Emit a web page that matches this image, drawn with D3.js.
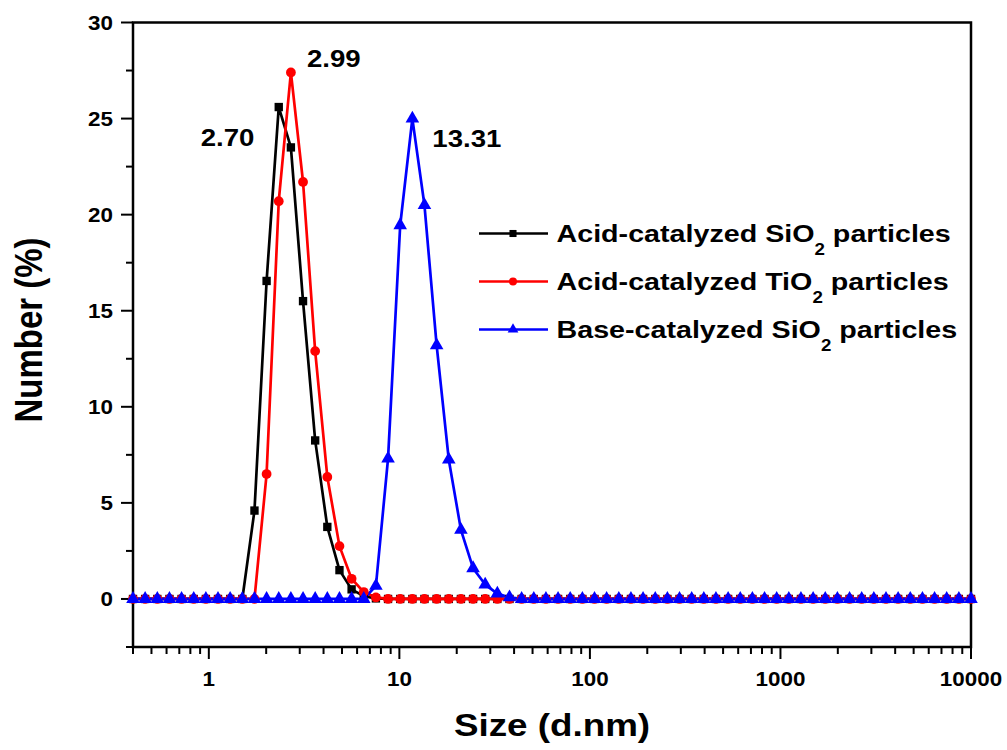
<!DOCTYPE html>
<html><head><meta charset="utf-8">
<script src="https://cdn.jsdelivr.net/npm/d3@7"></script>
<style>body{margin:0;background:#fff}svg{font-family:"Liberation Sans",Arial,sans-serif;font-weight:bold}</style>
</head><body><svg id="c" width="1007" height="750"></svg>
<script>
const sizes = [0.4,0.4632,0.5365,0.6213,0.7195,0.8332,0.9649,1.117,1.294,1.499,1.736,2.010,2.328,2.696,3.122,3.615,4.187,4.849,5.615,6.503,7.531,8.721,10.10,11.70,13.54,15.69,18.17,21.04,24.36,28.21,32.67,37.84,43.82,50.75,58.77,68.06,78.82,91.28,105.7,122.4,141.8,164.2,190.1,220.2,255.0,295.3,342.0,396.1,458.7,531.2,615.1,712.4,825.0,955.4,1106,1281,1484,1718,1990,2305,2669,3091,3580,4145,4801,5560,6439,7456,8635,10000];
// values per bin (non-zero part, all other bins 0)
const acidSiO2 = {1.736:4.6,2.010:16.55,2.328:25.6,2.696:23.5,3.122:15.5,3.615:8.25,4.187:3.75,4.849:1.5,5.615:0.5,6.503:0.15,7.531:0.03};
const acidTiO2 = {2.010:6.5,2.328:20.7,2.696:27.4,3.122:21.7,3.615:12.9,4.187:6.35,4.849:2.75,5.615:1.05,6.503:0.36,7.531:0.08};
const baseSiO2 = {7.531:0.68,8.721:7.3,10.10:19.45,11.70:25.0,13.54:20.5,15.69:13.2,18.17:7.25,21.04:3.6,24.36:1.6,28.21:0.75,32.67:0.28,37.84:0.08};
const seriesNames = ["Acid-catalyzed SiO","Acid-catalyzed TiO","Base-catalyzed SiO"];
const colors = ["#000000","#ff0000","#0000ff"];
const peakLabels = [{t:"2.70",x:2.328,y:25.6,s:0},{t:"2.99",x:2.696,y:27.4,s:1},{t:"13.31",x:11.70,y:25.0,s:2}];
const xTicks = [1,10,100,1000,10000];
const yTicks = [0,5,10,15,20,25,30];

const SX = 1.15; // horizontal text stretch
const svg = d3.select("#c");
const L=133,R=971,T=22.5,B=647;
const x = d3.scaleLog().domain([0.4,10000]).range([L,R]);
const y = d3.scaleLinear().domain([-2.5,30]).range([B,T]);

const sets=[acidSiO2,acidTiO2,baseSiO2].map(o=>sizes.map(s=>({s, v: o[s]!==undefined?o[s]:0})));

function stext(g,px,py,str,fs,anchor){
  return g.append("text").attr("transform",`translate(${px},${py}) scale(${SX},1)`)
    .attr("text-anchor",anchor||"start").attr("font-size",fs).text(str);
}

// axes
const gx = svg.append("g");
const minorX=[];
[0.1,1,10,100,1000].forEach(d=>{for(let k=2;k<=9;k++){const v=d*k; if(v>=0.4&&v<10000) minorX.push(v);}});
gx.selectAll("line.mi").data(minorX).join("line").attr("x1",d=>x(d)).attr("x2",d=>x(d)).attr("y1",B).attr("y2",B+7).attr("stroke","#000").attr("stroke-width",2);
gx.selectAll("line.ma").data(xTicks).join("line").attr("x1",d=>x(d)).attr("x2",d=>x(d)).attr("y1",B).attr("y2",B+12).attr("stroke","#000").attr("stroke-width",2);
xTicks.forEach(d=>stext(gx,x(d),686,String(d),19.5,"middle"));

const gy = svg.append("g");
const minorY=d3.range(-2.5,30,5);
gy.selectAll("line.mi").data(minorY).join("line").attr("y1",d=>y(d)).attr("y2",d=>y(d)).attr("x1",L).attr("x2",L-7).attr("stroke","#000").attr("stroke-width",2);
gy.selectAll("line.ma").data(yTicks).join("line").attr("y1",d=>y(d)).attr("y2",d=>y(d)).attr("x1",L).attr("x2",L-12).attr("stroke","#000").attr("stroke-width",2);
yTicks.forEach(d=>stext(gy,113,y(d)+7,String(d),19.5,"end"));

// frame
svg.append("rect").attr("x",L).attr("y",T).attr("width",R-L).attr("height",B-T).attr("fill","none").attr("stroke","#000").attr("stroke-width",2.5);

// titles
stext(svg,552,736,"Size (d.nm)",32,"middle");
svg.append("text").attr("transform",`translate(42,330) scale(${SX},1) rotate(-90)`).attr("text-anchor","middle").attr("font-size",33).text("Number (%)");

const line = d3.line().x(d=>x(d.s)).y(d=>y(d.v)).curve(d3.curveLinear);
const sym = [d3.symbolSquare,d3.symbolCircle,d3.symbolTriangle];
const symSize=[70,75,80];
[0,1,2].forEach(i=>{
  svg.append("path").datum(sets[i]).attr("d",line).attr("fill","none").attr("stroke",colors[i]).attr("stroke-width",2.7).attr("stroke-linejoin","round");
});
[0,1,2].forEach(i=>{
  svg.append("g").selectAll("path").data(sets[i]).join("path")
    .attr("transform",d=>`translate(${x(d.s)},${y(d.v)})`)
    .attr("d",d3.symbol().type(sym[i]).size(symSize[i])).attr("fill",colors[i]);
});

// peak labels
const off={0:[-78,39],1:[16,-5],2:[20,28]};
peakLabels.forEach(d=>stext(svg,x(d.x)+off[d.s][0],y(d.y)+off[d.s][1],d.t,24));

// legend
const lg = svg.append("g");
seriesNames.forEach((n,i)=>{
  const yy = 233.5 + i*48;
  lg.append("line").attr("x1",479).attr("x2",548).attr("y1",yy).attr("y2",yy).attr("stroke",colors[i]).attr("stroke-width",2.7);
  lg.append("path").attr("transform",`translate(513,${yy})`).attr("d",d3.symbol().type(sym[i]).size(50)).attr("fill",colors[i]);
  const t = lg.append("text").attr("transform",`translate(556.5,${yy+8}) scale(1.17,1)`).attr("font-size",24.5);
  t.append("tspan").text(n);
  t.append("tspan").attr("font-size",16).attr("dy",13).text("2");
  t.append("tspan").attr("dy",-13).text(" particles");
});
</script></body></html>
